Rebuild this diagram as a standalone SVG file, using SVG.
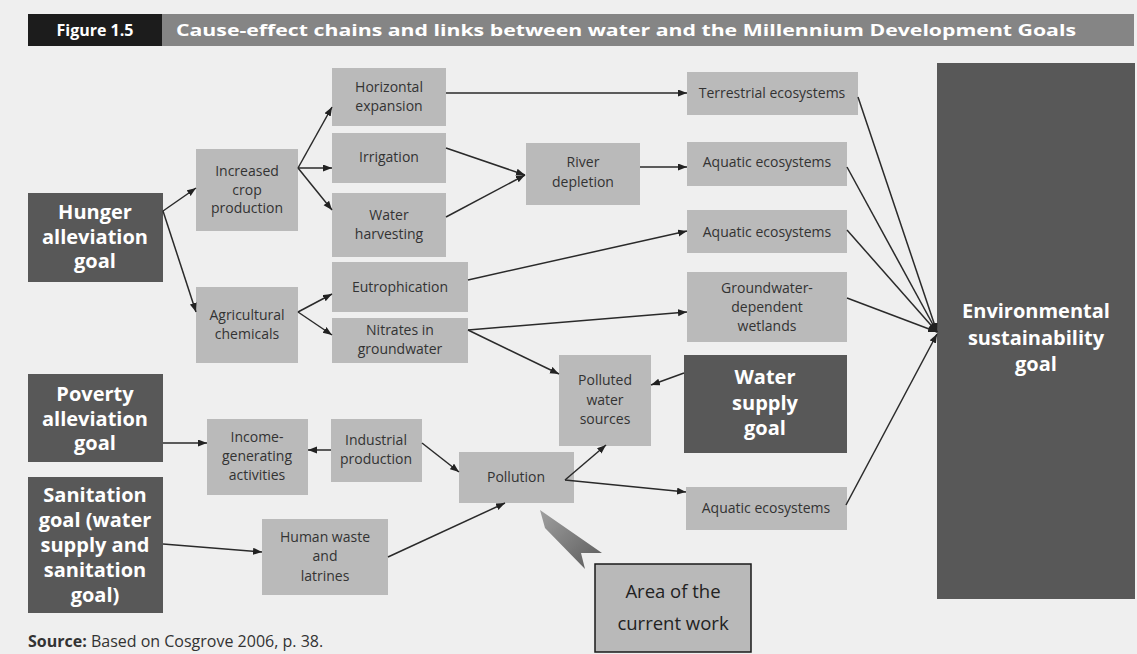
<svg xmlns="http://www.w3.org/2000/svg" width="1137" height="654" viewBox="0 0 1137 654">
<defs>
<marker id="ah" markerUnits="userSpaceOnUse" markerWidth="10" markerHeight="8" refX="9" refY="3.5" orient="auto">
<path d="M0,0 L9,3.5 L0,7 z" fill="#222"/>
</marker>
<linearGradient id="pg" x1="0" y1="0" x2="1" y2="1">
<stop offset="0" stop-color="#a0a0a0"/>
<stop offset="1" stop-color="#5a5a5a"/>
</linearGradient>
<style>
.n{fill:#bababa}
.g{fill:#585858}
.t{font-family:"Open Sans","Noto Sans",sans-serif;font-size:14px;fill:#333;text-anchor:middle}
.b{font-family:"Open Sans","Noto Sans",sans-serif;font-size:20px;font-weight:bold;fill:#fff;text-anchor:middle}
.c line{stroke:#2a2a2a;stroke-width:1.5;fill:none;marker-end:url(#ah)}
</style>
</defs>
<rect width="1137" height="654" fill="#efefef"/>
<g id="header">
<rect x="28" y="14" width="1106" height="32" fill="#858585"/>
<rect x="28" y="14" width="134" height="32" fill="#1c1c1c"/>
<text x="95" y="36" font-family="Open Sans,Noto Sans,sans-serif" font-size="16" font-weight="bold" fill="#fff" text-anchor="middle">Figure 1.5</text>
<text x="176" y="36" font-family="Open Sans,Noto Sans,sans-serif" font-size="16" font-weight="bold" fill="#fff" textLength="900" lengthAdjust="spacingAndGlyphs">Cause-effect chains and links between water and the Millennium Development Goals</text>
</g>
<g id="hunger"><rect class="g" x="28" y="193" width="135" height="89"/><text class="b" x="95" y="219">Hunger</text><text class="b" x="95" y="243.5">alleviation</text><text class="b" x="95" y="268">goal</text></g>
<g id="poverty"><rect class="g" x="28" y="374" width="135" height="88"/><text class="b" x="95" y="401">Poverty</text><text class="b" x="95" y="425.5">alleviation</text><text class="b" x="95" y="450">goal</text></g>
<g id="sanitation"><rect class="g" x="28" y="477" width="135" height="136"/><text class="b" x="95" y="502" font-size="20.5">Sanitation</text><text class="b" x="95" y="527" font-size="20.5">goal (water</text><text class="b" x="95" y="552" font-size="20.5">supply and</text><text class="b" x="95" y="577" font-size="20.5">sanitation</text><text class="b" x="95" y="602" font-size="20.5">goal)</text></g>
<g id="crop"><rect class="n" x="196" y="149" width="102" height="82"/><text class="t" x="247" y="176">Increased</text><text class="t" x="247" y="195">crop</text><text class="t" x="247" y="213">production</text></g>
<g id="agchem"><rect class="n" x="196" y="287" width="102" height="76"/><text class="t" x="247" y="320">Agricultural</text><text class="t" x="247" y="339">chemicals</text></g>
<g id="horizontal"><rect class="n" x="332" y="68" width="114" height="58"/><text class="t" x="389" y="92">Horizontal</text><text class="t" x="389" y="111">expansion</text></g>
<g id="irrigation"><rect class="n" x="332" y="133" width="114" height="50"/><text class="t" x="389" y="162">Irrigation</text></g>
<g id="harvesting"><rect class="n" x="332" y="193" width="114" height="64"/><text class="t" x="389" y="220">Water</text><text class="t" x="389" y="239">harvesting</text></g>
<g id="eutro"><rect class="n" x="332" y="262" width="136" height="50"/><text class="t" x="400" y="292">Eutrophication</text></g>
<g id="nitrates"><rect class="n" x="332" y="318" width="136" height="45"/><text class="t" x="400" y="335">Nitrates in</text><text class="t" x="400" y="354">groundwater</text></g>
<g id="river"><rect class="n" x="526" y="143" width="114" height="62"/><text class="t" x="583" y="167">River</text><text class="t" x="583" y="187">depletion</text></g>
<g id="terrestrial"><rect class="n" x="687" y="72" width="171" height="43"/><text class="t" x="772" y="98">Terrestrial ecosystems</text></g>
<g id="aquatic1"><rect class="n" x="687" y="142" width="160" height="44"/><text class="t" x="767" y="167">Aquatic ecosystems</text></g>
<g id="aquatic2"><rect class="n" x="687" y="210" width="160" height="43"/><text class="t" x="767" y="237">Aquatic ecosystems</text></g>
<g id="wetlands"><rect class="n" x="687" y="272" width="160" height="70"/><text class="t" x="767" y="293">Groundwater-</text><text class="t" x="767" y="312">dependent</text><text class="t" x="767" y="331">wetlands</text></g>
<g id="polluted"><rect class="n" x="559" y="355" width="92" height="91"/><text class="t" x="605" y="385">Polluted</text><text class="t" x="605" y="405">water</text><text class="t" x="605" y="424">sources</text></g>
<g id="watersupply"><rect class="g" x="684" y="355" width="163" height="98"/><text class="b" x="765" y="384" font-size="21">Water</text><text class="b" x="765" y="409.5" font-size="21">supply</text><text class="b" x="765" y="435" font-size="21">goal</text></g>
<g id="income"><rect class="n" x="207" y="419" width="101" height="76"/><text class="t" x="257" y="442">Income-</text><text class="t" x="257" y="461">generating</text><text class="t" x="257" y="480">activities</text></g>
<g id="industrial"><rect class="n" x="331" y="419" width="91" height="63"/><text class="t" x="376" y="445">Industrial</text><text class="t" x="376" y="464">production</text></g>
<g id="pollution"><rect class="n" x="459" y="452" width="115" height="51"/><text class="t" x="516" y="482">Pollution</text></g>
<g id="aquatic3"><rect class="n" x="686" y="487" width="161" height="43"/><text class="t" x="766" y="513">Aquatic ecosystems</text></g>
<g id="humanwaste"><rect class="n" x="262" y="519" width="126" height="76"/><text class="t" x="325" y="542">Human waste</text><text class="t" x="325" y="561">and</text><text class="t" x="325" y="581">latrines</text></g>
<g id="environment"><rect class="g" x="937" y="63" width="198" height="536"/><text class="b" x="1036" y="318" font-size="22">Environmental</text><text class="b" x="1036" y="344.5" font-size="22">sustainability</text><text class="b" x="1036" y="371" font-size="22">goal</text></g>
<g id="currentwork"><rect x="595" y="564" width="156" height="88" fill="#b9b9b9" stroke="#1a1a1a" stroke-width="1.5"/><text x="673" y="598" font-family="Open Sans,Noto Sans,sans-serif" font-size="18.5" fill="#222" text-anchor="middle">Area of the</text><text x="673" y="630" font-family="Open Sans,Noto Sans,sans-serif" font-size="18.5" fill="#222" text-anchor="middle">current work</text></g>
<g id="pointer"><polygon points="540,510 602,553 581,553 585,569 545,528" fill="url(#pg)"/></g>
<g id="source"><text x="28" y="647" font-family="Open Sans,Noto Sans,sans-serif" font-size="16" fill="#333"><tspan font-weight="bold">Source:</tspan> Based on Cosgrove 2006, p. 38.</text></g>
<g id="connectors" class="c">
<line x1="163" y1="211" x2="196" y2="188"/>
<line x1="163" y1="211" x2="196" y2="312"/>
<line x1="298" y1="168" x2="332" y2="107"/>
<line x1="298" y1="168" x2="332" y2="168"/>
<line x1="298" y1="168" x2="332" y2="210"/>
<line x1="298" y1="312" x2="332" y2="294"/>
<line x1="298" y1="312" x2="332" y2="335"/>
<line x1="446" y1="93" x2="687" y2="93"/>
<line x1="446" y1="148" x2="525" y2="175"/>
<line x1="446" y1="217" x2="525" y2="175"/>
<line x1="640" y1="167" x2="687" y2="167"/>
<line x1="468" y1="280" x2="687" y2="231"/>
<line x1="468" y1="330" x2="687" y2="312"/>
<line x1="468" y1="330" x2="559" y2="374"/>
<line x1="684" y1="373" x2="651" y2="385"/>
<line x1="565" y1="480" x2="606" y2="445"/>
<line x1="565" y1="480" x2="686" y2="492"/>
<line x1="422" y1="443" x2="459" y2="472"/>
<line x1="388" y1="557" x2="505" y2="503"/>
<line x1="331" y1="450" x2="308" y2="450"/>
<line x1="163" y1="443" x2="207" y2="443"/>
<line x1="163" y1="544" x2="262" y2="552"/>
<line x1="858" y1="97" x2="937" y2="332"/>
<line x1="847" y1="167" x2="937" y2="332"/>
<line x1="847" y1="230" x2="937" y2="332"/>
<line x1="847" y1="298" x2="937" y2="332"/>
<line x1="846" y1="505" x2="937" y2="334"/>
</g>
</svg>
